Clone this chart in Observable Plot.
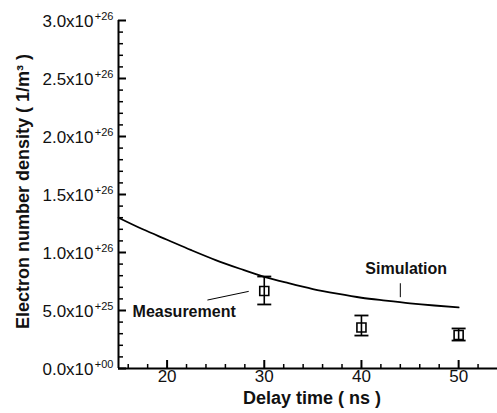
<!DOCTYPE html>
<html><head><meta charset="utf-8">
<script src="https://cdn.jsdelivr.net/npm/d3@7"></script>
<script src="https://cdn.jsdelivr.net/npm/@observablehq/plot@0.6"></script>
<style>
body{margin:0;background:#fff}
svg{display:block}
</style>
</head><body><div id="chart"></div>
<script>
// Simulation curve (delay time ns, electron density 1/m^3)
const simTime = [15, 17.5, 20, 22.5, 25, 27.5, 30, 32.5, 35, 37.5, 40, 42.5, 45, 47.5, 50];
const simDensity = [1.30e26, 1.20e26, 1.11e26, 1.02e26, 0.935e26, 0.86e26, 0.79e26, 0.735e26, 0.685e26, 0.645e26, 0.61e26, 0.585e26, 0.562e26, 0.543e26, 0.527e26];

// Measurements with error bars
const measTime = [30, 40, 50];
const measDensity = [0.668e26, 0.353e26, 0.289e26];
const measLow = [0.552e26, 0.284e26, 0.241e26];
const measHigh = [0.793e26, 0.457e26, 0.345e26];

// Axis ticks
const xMajor = [20, 30, 40, 50];
const xMinor = [16, 18, 22, 24, 26, 28, 32, 34, 36, 38, 42, 44, 46, 48, 52];
const yMajor = [0, 0.5e26, 1.0e26, 1.5e26, 2.0e26, 2.5e26, 3.0e26];
const yMajorMantissa = ["0.0x10", "5.0x10", "1.0x10", "1.5x10", "2.0x10", "2.5x10", "3.0x10"];
const yMajorExponent = ["+00", "+25", "+26", "+26", "+26", "+26", "+26"];
const yMinor = [0.1e26, 0.2e26, 0.3e26, 0.4e26, 0.6e26, 0.7e26, 0.8e26, 0.9e26, 1.1e26, 1.2e26, 1.3e26, 1.4e26,
  1.6e26, 1.7e26, 1.8e26, 1.9e26, 2.1e26, 2.2e26, 2.3e26, 2.4e26, 2.6e26, 2.7e26, 2.8e26, 2.9e26];

// Titles and annotations
const xTitle = "Delay time ( ns )";
const yTitle = "Electron number density ( 1/m\u00B3 )";
const annoText = ["Simulation", "Measurement"];
const annoX = [40.4, 16.45];
const annoY = [0.856e26, 0.486e26];
const leaderX1 = [44.0, 24.15];
const leaderY1 = [0.735e26, 0.59e26];
const leaderX2 = [44.0, 28.4];
const leaderY2 = [0.615e26, 0.665e26];

const W = 497, H = 413;
const mL = 118, mR = 0, mT = 20, mB = 45;
const plotW = W - mL - mR, plotH = H - mT - mB;
const font = "'Liberation Sans', Arial, Helvetica, sans-serif";

const sim = simTime.map((t, i) => ({t, n: simDensity[i]}));
const meas = measTime.map((t, i) => ({t, n: measDensity[i], lo: measLow[i], hi: measHigh[i]}));
const yTicks = yMajor.map((v, i) => ({v, m: yMajorMantissa[i], e: yMajorExponent[i]}));
const anno = annoText.map((s, i) => ({s, x: annoX[i], y: annoY[i]}));
const leaders = leaderX1.map((x1, i) => ({x1, y1: leaderY1[i], x2: leaderX2[i], y2: leaderY2[i]}));

// horizontal line symbol for error-bar caps
const capSymbol = {draw(ctx, size) { const r = Math.sqrt(size / Math.PI); ctx.moveTo(-r, 0); ctx.lineTo(r, 0); }};

const chart = Plot.plot({
  width: W, height: H,
  marginLeft: mL, marginRight: mR, marginTop: mT, marginBottom: mB,
  style: {fontFamily: font, background: "#fff", color: "#000"},
  x: {domain: [15, 54], axis: null},
  y: {domain: [0, 3.0e26], axis: null},
  marks: [
    // axis lines
    Plot.ruleX([15], {stroke: "#000", strokeWidth: 2}),
    Plot.ruleY([0], {stroke: "#000", strokeWidth: 2}),
    // inward ticks
    Plot.tickX(xMajor, {x: d => d, insetTop: plotH - 8, stroke: "#000", strokeWidth: 2}),
    Plot.tickX(xMinor, {x: d => d, insetTop: plotH - 4, stroke: "#000", strokeWidth: 1.5}),
    Plot.tickY(yMajor, {y: d => d, insetRight: plotW - 8, stroke: "#000", strokeWidth: 2}),
    Plot.tickY(yMinor, {y: d => d, insetRight: plotW - 5, stroke: "#000", strokeWidth: 1.5}),
    // tick labels
    Plot.text(xMajor, {x: d => d, frameAnchor: "bottom", dy: 13, text: d => String(d), textAnchor: "middle", fontSize: 17, fill: "#111"}),
    Plot.text(yTicks, {y: "v", frameAnchor: "left", dx: -25, dy: 1.5, text: "m", textAnchor: "end", fontSize: 17, fill: "#111"}),
    Plot.text(yTicks, {y: "v", frameAnchor: "left", dx: -5, dy: -4, text: "e", textAnchor: "end", fontSize: 11, fill: "#111"}),
    // axis titles
    Plot.text([xTitle], {frameAnchor: "bottom", dx: 4, dy: 35, text: d => d, textAnchor: "middle", fontSize: 18, fontWeight: "bold", fill: "#111"}),
    Plot.text([yTitle], {frameAnchor: "left", dx: -95, dy: -3, rotate: -90, text: d => d, textAnchor: "middle", fontSize: 18, fontWeight: "bold", fill: "#111"}),
    // simulation curve
    Plot.line(sim, {x: "t", y: "n", curve: "monotone-x", stroke: "#000", strokeWidth: 1.8}),
    // measurements: error bars, caps, open squares
    Plot.ruleX(meas, {x: "t", y1: "lo", y2: "hi", stroke: "#000", strokeWidth: 1.6}),
    Plot.dot(meas, {x: "t", y: "lo", symbol: capSymbol, r: 7, stroke: "#000", strokeWidth: 1.8}),
    Plot.dot(meas, {x: "t", y: "hi", symbol: capSymbol, r: 7, stroke: "#000", strokeWidth: 1.8}),
    Plot.dot(meas, {x: "t", y: "n", symbol: "square", r: 5.1, stroke: "#000", fill: "none", strokeWidth: 1.6}),
    // annotations
    Plot.link(leaders, {x1: "x1", y1: "y1", x2: "x2", y2: "y2", stroke: "#000", strokeWidth: 1}),
    Plot.text(anno, {x: "x", y: "y", text: "s", textAnchor: "start", fontSize: 16, fontWeight: "bold", fill: "#111"})
  ]
});
document.getElementById("chart").appendChild(chart);
</script>
</body></html>
